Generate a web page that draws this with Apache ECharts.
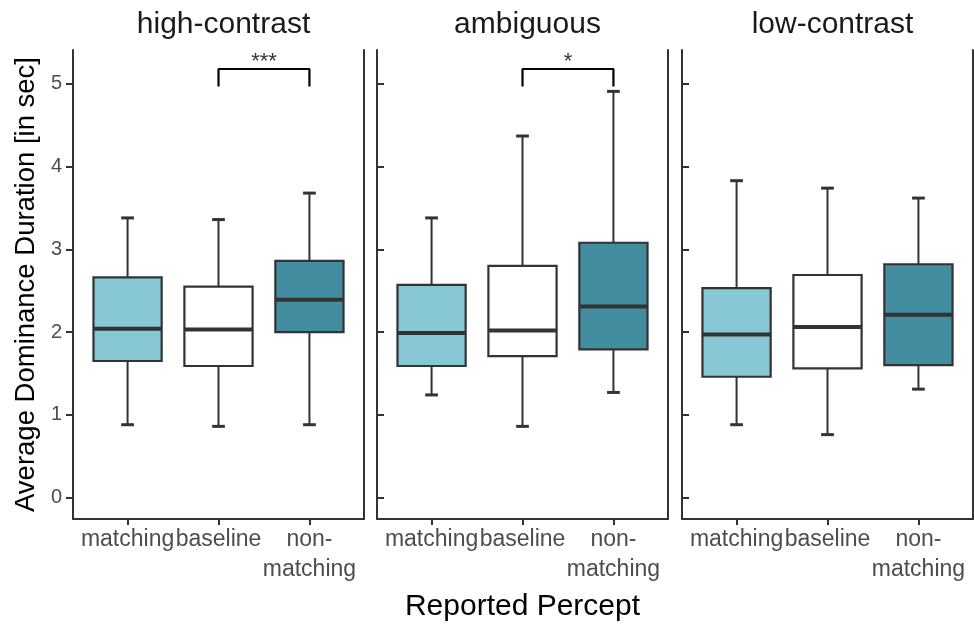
<!DOCTYPE html>
<html>
<head>
<meta charset="utf-8">
<script type="text/javascript" src="https://cdn.jsdelivr.net/npm/echarts/dist/echarts.min.js"></script>
<style>
html, body { margin: 0; padding: 0; background: #fff; }
</style>
</head>
<body>
<div id="container-box" style="width:974px; height:624px;"></div>

<script type="text/javascript">
// facets and categories
var conditions = ['high-contrast', 'ambiguous', 'low-contrast'];
var percepts = ['matching', 'baseline', 'non-\nmatching'];
var perceptPos = [1, 2, 3];
var yTicks = [0, 1, 2, 3, 4, 5];

// box stats per facet: [min, Q1, median, Q3, max] for matching / baseline / non-matching
var highContrast = [
	[0.88, 1.65, 2.04, 2.66, 3.38],
	[0.86, 1.59, 2.03, 2.55, 3.36],
	[0.88, 2.00, 2.39, 2.86, 3.68]
];
var ambiguous = [
	[1.24, 1.59, 1.99, 2.57, 3.38],
	[0.86, 1.71, 2.02, 2.80, 4.37],
	[1.27, 1.79, 2.31, 3.08, 4.91]
];
var lowContrast = [
	[0.88, 1.46, 1.97, 2.53, 3.83],
	[0.76, 1.56, 2.06, 2.69, 3.74],
	[1.31, 1.60, 2.21, 2.82, 3.62]
];
var boxStats = [highContrast, ambiguous, lowContrast];

// significance brackets: facet, from, to, label
var sigFacet = [0, 1];
var sigFrom = [2, 2];
var sigTo = [3, 3];
var sigLabel = ['***', '*'];
var bracketTop = 5.18;
var bracketFoot = 4.97;
var starY = 5.27;

var fills = ['#86C7D3', '#FFFFFF', '#428D9F'];
var ink = '#333333';
var font = 'Liberation Sans';

var dom = document.getElementById("container-box");
var myChart = echarts.init(dom);

var panelLeft = [73, 377, 682];
var panelWidth = 291;

function renderBox(params, api) {
	var x = api.value(0);
	var pMin = api.coord([x, api.value(1)]);
	var pQ1 = api.coord([x, api.value(2)]);
	var pMed = api.coord([x, api.value(3)]);
	var pQ3 = api.coord([x, api.value(4)]);
	var pMax = api.coord([x, api.value(5)]);
	var half = api.size([0.75, 0])[0] / 2;
	var cap = api.size([0.14, 0])[0] / 2;
	var xc = pMed[0];
	return {
		type: 'group',
		children: [
			{ type: 'line', shape: { x1: xc, y1: pMin[1], x2: xc, y2: pMax[1] }, style: { stroke: ink, lineWidth: 2 } },
			{ type: 'line', shape: { x1: xc - cap, y1: pMin[1], x2: xc + cap, y2: pMin[1] }, style: { stroke: ink, lineWidth: 3 } },
			{ type: 'line', shape: { x1: xc - cap, y1: pMax[1], x2: xc + cap, y2: pMax[1] }, style: { stroke: ink, lineWidth: 3 } },
			{ type: 'rect', shape: { x: xc - half, y: pQ3[1], width: half * 2, height: pQ1[1] - pQ3[1] },
				style: { fill: fills[api.value(6)], stroke: ink, lineWidth: 2.2 } },
			{ type: 'line', shape: { x1: xc - half, y1: pMed[1], x2: xc + half, y2: pMed[1] }, style: { stroke: ink, lineWidth: 4 } }
		]
	};
}

var grids = [], xAxes = [], yAxes = [], titles = [], series = [];

for (var i = 0; i < conditions.length; i++) {
	grids.push({ left: panelLeft[i], width: panelWidth, top: 50, height: 469, containLabel: false, outerBoundsMode: 'none' });
	titles.push({
		text: conditions[i],
		left: panelLeft[i] + panelWidth / 2,
		top: 5,
		textAlign: 'center',
		textStyle: { fontFamily: font, fontSize: 30, fontWeight: 'normal', color: '#1a1a1a' }
	});
	xAxes.push({
		type: 'value',
		gridIndex: i,
		min: 0.4,
		max: 3.6,
		name: i === 1 ? 'Reported Percept' : '',
		nameLocation: 'middle',
		nameGap: 73,
		nameTextStyle: { fontFamily: font, fontSize: 30, color: '#000' },
		axisLine: { show: true, onZero: false, lineStyle: { color: ink, width: 2 } },
		axisTick: { show: true, interval: 0, customValues: perceptPos, length: 6, lineStyle: { color: ink, width: 2 } },
		axisLabel: {
			show: true,
			interval: 0,
			customValues: perceptPos,
			hideOverlap: false,
			formatter: function (v) { return percepts[Math.round(v) - 1]; },
			fontFamily: font,
			fontSize: 23,
			lineHeight: 30,
			color: '#4D4D4D',
			margin: 6
		},
		splitLine: { show: false }
	});
	yAxes.push({
		type: 'value',
		gridIndex: i,
		min: -0.26,
		max: 5.41,
		name: i === 0 ? 'Average Dominance Duration [in sec]' : '',
		nameLocation: 'middle',
		nameGap: 33,
		nameTextStyle: { fontFamily: font, fontSize: 27.5, color: '#000' },
		axisLine: { show: true, onZero: false, lineStyle: { color: ink, width: 2 } },
		axisTick: { show: true, inside: i > 0, customValues: yTicks, length: 7, lineStyle: { color: ink, width: 2 } },
		axisLabel: {
			show: i === 0,
			customValues: yTicks,
			fontFamily: font,
			fontSize: 20,
			color: '#4D4D4D',
			margin: 11
		},
		splitLine: { show: false }
	});
	yAxes.push({
		type: 'value',
		gridIndex: i,
		position: 'right',
		min: -0.26,
		max: 5.41,
		axisLine: { show: true, onZero: false, lineStyle: { color: ink, width: 2 } },
		axisTick: { show: false },
		axisLabel: { show: false },
		splitLine: { show: false }
	});

	var boxData = [];
	for (var j = 0; j < percepts.length; j++) {
		var s = boxStats[i][j];
		boxData.push([perceptPos[j], s[0], s[1], s[2], s[3], s[4], j]);
	}
	series.push({
		type: 'custom',
		xAxisIndex: i,
		yAxisIndex: i * 2,
		renderItem: renderBox,
		encode: { x: 0, y: [1, 2, 3, 4, 5] },
		data: boxData,
		silent: true
	});
}

for (var k = 0; k < sigFacet.length; k++) {
	var f = sigFacet[k];
	series.push({
		type: 'line',
		xAxisIndex: f,
		yAxisIndex: f * 2,
		symbol: 'none',
		lineStyle: { color: '#000', width: 2.2 },
		data: [[sigFrom[k], bracketFoot], [sigFrom[k], bracketTop], [sigTo[k], bracketTop], [sigTo[k], bracketFoot]],
		silent: true
	});
	series.push({
		type: 'scatter',
		xAxisIndex: f,
		yAxisIndex: f * 2,
		symbolSize: 0,
		data: [[(sigFrom[k] + sigTo[k]) / 2, starY]],
		label: {
			show: true,
			position: 'inside',
			formatter: sigLabel[k],
			fontFamily: font,
			fontSize: 22,
			color: '#000'
		},
		silent: true
	});
}

option = {
	animation: false,
	backgroundColor: '#fff',
	title: titles,
	grid: grids,
	xAxis: xAxes,
	yAxis: yAxes,
	series: series
};

myChart.setOption(option, true);
</script>
</body>
</html>
